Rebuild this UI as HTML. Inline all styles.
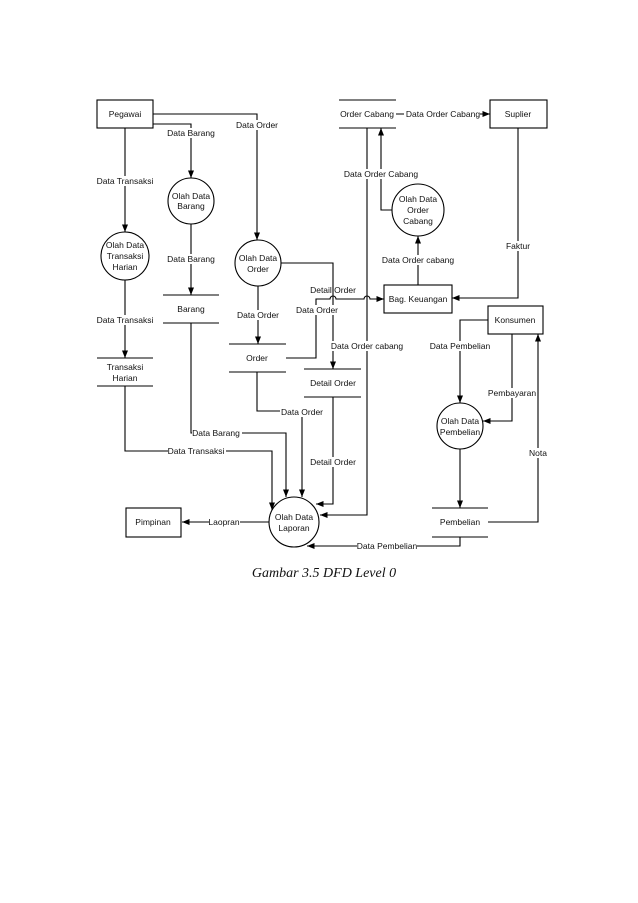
<!DOCTYPE html>
<html><head><meta charset="utf-8"><style>
html,body{margin:0;padding:0;background:#fff;}
svg{display:block;}
text{font-family:"Liberation Sans",sans-serif;font-size:8.5px;fill:#111;}
.l{fill:#fff;}
</style></head><body>
<svg width="638" height="903" viewBox="0 0 638 903" xmlns="http://www.w3.org/2000/svg">
<defs><marker id="a" viewBox="0 0 10 10" refX="10" refY="5" markerWidth="7" markerHeight="7" orient="auto"><path d="M0,1L10,5L0,9z" fill="#000"/></marker></defs>
<g fill="none" stroke="#000" stroke-width="1.1">
<!-- boxes -->
<rect x="97" y="100" width="56" height="28" fill="#fff"/>
<rect x="490" y="100" width="57" height="28"/>
<rect x="384" y="285" width="68" height="28"/>
<rect x="488" y="306" width="55" height="28"/>
<rect x="126" y="508" width="55" height="29"/>
<!-- circles -->
<circle cx="191" cy="201" r="23"/>
<circle cx="125" cy="256" r="24"/>
<circle cx="258" cy="263" r="23"/>
<circle cx="418" cy="210" r="26"/>
<circle cx="460" cy="426" r="23"/>
<circle cx="294" cy="522" r="25"/>
<!-- stores -->
<path d="M339 100H396M339 128H396"/>
<path d="M163 295H219M163 323H219"/>
<path d="M97 358H153M97 386H153"/>
<path d="M229 344H286M229 372H286"/>
<path d="M304 369H361M304 397H361"/>
<path d="M432 508H488M432 537H488"/>
<!-- flows -->
<path d="M153 114H257V240" marker-end="url(#a)"/>
<path d="M153 124H191V178" marker-end="url(#a)"/>
<path d="M125 128V232" marker-end="url(#a)"/>
<path d="M191 224V295" marker-end="url(#a)"/>
<path d="M125 280V358" marker-end="url(#a)"/>
<path d="M258 286V344" marker-end="url(#a)"/>
<path d="M281 263H333V369" marker-end="url(#a)"/>
<path d="M286 358H316V299H330a3 3 0 0 1 6 0H364a3 3 0 0 1 6 0H384" marker-end="url(#a)"/>
<path d="M333 397V504H316" marker-end="url(#a)"/>
<path d="M257 372V411H302V497" marker-end="url(#a)"/>
<path d="M191 323V433H286V497" marker-end="url(#a)"/>
<path d="M125 386V451H272V510" marker-end="url(#a)"/>
<path d="M367 128V515H320" marker-end="url(#a)"/>
<path d="M269 522H182" marker-end="url(#a)"/>
<path d="M460 537V546H307" marker-end="url(#a)"/>
<path d="M488 522H538V334" marker-end="url(#a)"/>
<path d="M460 449V508" marker-end="url(#a)"/>
<path d="M488 320H460V403" marker-end="url(#a)"/>
<path d="M512 334V421H483" marker-end="url(#a)"/>
<path d="M396 114H490" marker-end="url(#a)"/>
<path d="M518 128V298H452" marker-end="url(#a)"/>
<path d="M418 285V236" marker-end="url(#a)"/>
<path d="M392 210H381V128" marker-end="url(#a)"/>
</g>
<g text-anchor="middle">
<text x="125" y="117">Pegawai</text>
<text x="518" y="117">Suplier</text>
<text x="418" y="302">Bag. Keuangan</text>
<text x="515" y="323">Konsumen</text>
<text x="153" y="525">Pimpinan</text>
<text x="367" y="117">Order Cabang</text>
<text x="191" y="312">Barang</text>
<text x="125" y="370">Transaksi</text><text x="125" y="381">Harian</text>
<text x="257" y="361">Order</text>
<text x="333" y="386">Detail Order</text>
<text x="460" y="525">Pembelian</text>
<text x="191" y="199">Olah Data</text><text x="191" y="209">Barang</text>
<text x="125" y="248">Olah Data</text><text x="125" y="259">Transaksi</text><text x="125" y="270">Harian</text>
<text x="258" y="261">Olah Data</text><text x="258" y="272">Order</text>
<text x="418" y="202">Olah Data</text><text x="418" y="213">Order</text><text x="418" y="224">Cabang</text>
<text x="460" y="424">Olah Data</text><text x="460" y="435">Pembelian</text>
<text x="294" y="520">Olah Data</text><text x="294" y="531">Laporan</text>
</g>
<g text-anchor="middle">
<rect class="l" x="232" y="120" width="50" height="10"/><text x="257" y="128">Data Order</text>
<rect class="l" x="164" y="128" width="54" height="10"/><text x="191" y="136">Data Barang</text>
<rect class="l" x="92" y="176" width="66" height="10"/><text x="125" y="184">Data Transaksi</text>
<rect class="l" x="164" y="254" width="54" height="10"/><text x="191" y="262">Data Barang</text>
<rect class="l" x="92" y="315" width="66" height="10"/><text x="125" y="323">Data Transaksi</text>
<rect class="l" x="233" y="310" width="50" height="10"/><text x="258" y="318">Data Order</text>
<text x="333" y="293">Detail Order</text>
<rect class="l" x="294" y="305" width="46" height="10"/><text x="317" y="313">Data Order</text>
<rect class="l" x="331" y="341" width="72" height="10"/><text x="367" y="349">Data Order cabang</text>
<rect class="l" x="280" y="407" width="44" height="10"/><text x="302" y="415">Data Order</text>
<rect class="l" x="192" y="428" width="50" height="10"/><text x="216" y="436">Data Barang</text>
<rect class="l" x="168" y="446" width="58" height="10"/><text x="196" y="454">Data Transaksi</text>
<rect class="l" x="307" y="457" width="52" height="10"/><text x="333" y="465">Detail Order</text>
<rect class="l" x="209" y="517" width="31" height="10"/><text x="224" y="525">Laopran</text>
<rect class="l" x="357" y="541" width="60" height="10"/><text x="387" y="549">Data Pembelian</text>
<rect class="l" x="522" y="448" width="20" height="10"/><text x="538" y="456">Nota</text>
<rect class="l" x="488" y="388" width="48" height="10"/><text x="512" y="396">Pembayaran</text>
<rect class="l" x="430" y="341" width="60" height="10"/><text x="460" y="349">Data Pembelian</text>
<rect class="l" x="404" y="109" width="76" height="10"/><text x="443" y="117">Data Order Cabang</text>
<rect class="l" x="506" y="241" width="26" height="10"/><text x="518" y="249">Faktur</text>
<rect class="l" x="383" y="255" width="72" height="10"/><text x="418" y="263">Data Order cabang</text>
<rect class="l" x="344" y="169" width="74" height="10"/><text x="381" y="177">Data Order Cabang</text>
</g>
<text x="324" y="577" text-anchor="middle" style="font-family:'Liberation Serif',serif;font-style:italic;font-size:14px;">Gambar 3.5 DFD Level 0</text>
</svg>
</body></html>
